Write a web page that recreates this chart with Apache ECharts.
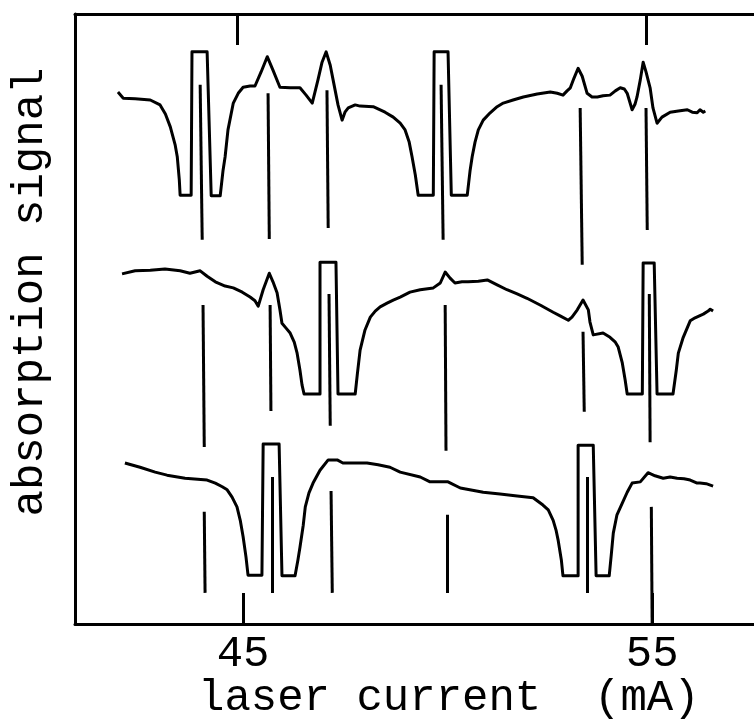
<!DOCTYPE html>
<html>
<head>
<meta charset="utf-8">
<script src="https://cdn.jsdelivr.net/npm/echarts@6/dist/echarts.min.js"></script>
<style>
  html, body { margin: 0; padding: 0; background: #fff; }
  #chart { width: 754px; height: 728px; }
</style>
</head>
<body>
<div id="chart"></div>
<script>
  // laser current (mA) vs absorption signal (a.u., traces stacked by offset)
  const traceTop = [
    [41.94,87.2],[42.07,86.2],[42.36,86.1],[42.73,85.9],[42.97,85.1],[43.10,83.6],[43.22,81.5],[43.34,78.5],
    [43.39,76.6],[43.44,72.8],[43.46,70.3],[43.73,70.3],[43.75,93.8],[44.12,93.8],[44.22,70.2],[44.44,70.2],
    [44.51,74.4],[44.56,76.6],[44.63,81.0],[44.76,85.4],[44.88,87.0],[45.00,88.0],[45.17,88.2],[45.29,88.2],
    [45.44,90.5],[45.59,93.0],[45.73,90.8],[45.90,88.0],[46.15,87.9],[46.39,87.9],[46.54,86.7],[46.69,85.4],
    [46.83,89.2],[46.93,92.1],[47.03,93.8],[47.13,91.6],[47.20,89.2],[47.32,85.1],[47.42,82.6],[47.49,83.9],
    [47.57,84.6],[47.74,85.1],[47.86,84.9],[48.18,84.8],[48.47,83.9],[48.67,83.1],[48.84,82.1],[48.96,81.0],
    [49.06,79.0],[49.13,76.6],[49.21,73.6],[49.28,70.3],[49.65,70.3],[49.67,93.8],[50.01,93.8],[50.09,70.3],
    [50.48,70.3],[50.55,74.4],[50.60,76.6],[50.67,79.0],[50.75,81.0],[50.87,82.6],[51.04,83.8],[51.21,84.8],
    [51.36,85.4],[51.60,85.9],[51.85,86.4],[52.19,86.9],[52.51,87.2],[52.68,87.0],[52.82,86.7],[52.92,87.4],
    [53.00,87.9],[53.09,89.5],[53.19,91.1],[53.29,89.8],[53.41,87.0],[53.53,86.4],[53.66,86.4],[53.80,86.6],
    [53.97,86.7],[54.10,87.4],[54.22,87.9],[54.32,87.7],[54.39,87.0],[54.51,84.3],[54.58,85.2],[54.63,86.4],
    [54.71,89.2],[54.78,92.1],[54.85,90.5],[54.95,87.9],[55.02,84.6],[55.12,82.1],[55.24,83.1],[55.44,83.9],
    [55.64,84.1],[55.86,84.3],[55.98,83.9],[56.10,83.8],[56.17,84.3],[56.25,83.9],[56.30,84.1]
  ];

  const traceMid = [
    [42.04,57.4],[42.36,57.9],[42.73,58.0],[43.09,58.2],[43.46,57.9],[43.70,57.5],[43.95,57.9],[44.12,57.0],
    [44.32,56.1],[44.56,55.4],[44.76,55.1],[44.98,54.4],[45.17,53.6],[45.29,53.0],[45.37,52.1],[45.49,54.8],
    [45.64,57.5],[45.73,56.1],[45.83,54.3],[45.90,51.5],[45.95,49.3],[46.05,48.5],[46.15,47.7],[46.25,46.2],
    [46.32,44.4],[46.39,41.6],[46.44,39.2],[46.49,37.7],[46.88,37.7],[46.88,59.3],[47.27,59.3],[47.32,37.7],
    [47.74,37.7],[47.79,40.8],[47.86,44.9],[47.98,48.2],[48.11,50.3],[48.23,51.3],[48.35,52.0],[48.52,52.6],
    [48.67,53.1],[48.84,53.6],[49.08,54.4],[49.33,54.8],[49.65,55.1],[49.82,55.9],[49.94,57.7],[50.06,56.7],
    [50.18,55.9],[50.35,56.1],[50.50,56.1],[50.75,56.2],[50.97,56.4],[51.21,55.6],[51.45,54.8],[51.70,54.1],
    [51.94,53.4],[52.26,52.3],[52.58,51.1],[52.75,50.5],[52.95,49.8],[53.04,50.3],[53.17,51.5],[53.31,53.1],
    [53.44,51.5],[53.48,49.5],[53.56,47.4],[53.80,47.7],[53.97,47.0],[54.10,46.2],[54.17,45.4],[54.27,42.8],
    [54.34,40.0],[54.39,37.7],[54.76,37.7],[54.78,59.2],[55.05,59.2],[55.12,37.7],[55.51,37.7],[55.59,41.6],
    [55.64,44.4],[55.76,47.0],[55.93,49.7],[56.05,50.2],[56.25,50.8],[56.37,51.3],[56.42,51.6],[56.49,51.3]
  ];

  const traceBot = [
    [42.11,26.4],[42.48,25.7],[42.85,24.9],[43.14,24.4],[43.58,23.9],[44.12,23.6],[44.32,23.1],[44.49,22.5],
    [44.61,22.0],[44.73,20.8],[44.85,19.2],[44.93,17.0],[45.00,14.3],[45.07,11.0],[45.12,8.0],[45.46,8.0],
    [45.49,29.5],[45.88,29.5],[45.95,7.9],[46.27,7.9],[46.34,10.5],[46.39,12.6],[46.47,16.2],[46.52,19.2],
    [46.61,21.5],[46.71,23.1],[46.88,25.2],[47.08,26.9],[47.30,26.9],[47.44,26.4],[47.74,26.4],[48.03,26.4],
    [48.30,26.1],[48.59,25.7],[48.84,24.9],[49.33,24.1],[49.57,23.3],[50.01,23.3],[50.31,22.3],[50.87,21.6],
    [51.28,21.3],[51.70,21.0],[52.09,20.7],[52.33,19.5],[52.46,18.7],[52.58,17.0],[52.65,15.4],[52.70,13.8],
    [52.78,10.5],[52.82,7.9],[53.19,7.9],[53.19,29.3],[53.56,29.3],[53.63,7.9],[53.95,7.9],[54.00,11.3],
    [54.05,14.9],[54.14,17.9],[54.27,19.8],[54.39,21.6],[54.51,23.1],[54.71,23.3],[54.90,24.8],[55.07,24.3],
    [55.27,23.9],[55.44,24.1],[55.61,23.9],[55.78,23.8],[55.93,23.6],[56.10,23.1],[56.17,23.1],[56.32,23.0],
    [56.49,22.6]
  ];

  // frequency marker lines: [x1, y1, x2, y2]
  const markers = [
    [43.95,88.4,44.00,63.0],[44.02,52.3,44.05,29.0],[44.05,18.4,44.07,5.1],
    [45.61,87.0,45.64,63.1],[45.66,52.3,45.68,34.9],[45.71,24.1,45.71,5.1],
    [47.05,87.5,47.08,64.9],[47.10,54.1,47.13,32.5],[47.15,21.8,47.18,5.1],
    [49.84,88.4,49.89,63.0],[49.94,52.3,49.96,28.4],[49.99,17.9,49.99,5.1],
    [53.24,84.6,53.29,58.9],[53.31,47.9,53.34,34.8],[53.41,24.1,53.41,5.1],
    [54.85,84.6,54.88,64.6],[54.93,54.1,54.95,29.8],[54.98,19.2,55.00,0]
  ];

  const tickValues = [45, 55];
  const xTitle = 'laser current  (mA)';
  const yTitle = 'absorption signal';

  const font = '"Liberation Mono", "DejaVu Sans Mono", monospace';
  const ink = '#000';
  const lw = 3;

  const chart = echarts.init(document.getElementById('chart'));

  const traceSeries = (data) => ({
    type: 'line',
    data: data,
    showSymbol: false,
    symbol: 'none',
    animation: false,
    lineStyle: { color: ink, width: lw, join: 'round' }
  });

  chart.setOption({
    backgroundColor: '#fff',
    animation: false,
    grid: {
      left: 75,
      right: 0,
      top: 14,
      bottom: 104,
      show: false
    },
    xAxis: [
      {
        type: 'value',
        min: 40.89,
        max: 57.49,
        position: 'bottom',
        splitLine: { show: false },
        axisLine: { show: true, onZero: false, lineStyle: { color: ink, width: lw } },
        axisTick: {
          show: true,
          inside: true,
          length: 31,
          customValues: tickValues,
          lineStyle: { color: ink, width: lw }
        },
        axisLabel: {
          show: true,
          customValues: tickValues,
          margin: 8,
          color: ink,
          fontFamily: font,
          fontSize: 44
        }
      },
      {
        // top edge ticks (scan is slightly tilted, so they sit a little left)
        type: 'value',
        min: 41.04,
        max: 57.64,
        position: 'top',
        splitLine: { show: false },
        axisLine: { show: true, onZero: false, lineStyle: { color: ink, width: lw } },
        axisLabel: { show: false },
        axisTick: {
          show: true,
          inside: true,
          length: 31,
          customValues: tickValues,
          lineStyle: { color: ink, width: lw }
        }
      }
    ],
    yAxis: {
      type: 'value',
      min: 0,
      max: 100,
      position: 'left',
      axisLine: { show: true, onZero: false, lineStyle: { color: ink, width: lw } },
      axisTick: { show: false },
      axisLabel: { show: false },
      splitLine: { show: false }
    },
    series: [
      traceSeries(traceTop),
      traceSeries(traceMid),
      traceSeries(traceBot),
      {
        type: 'lines',
        coordinateSystem: 'cartesian2d',
        animation: false,
        lineStyle: { color: ink, width: lw, opacity: 1 },
        data: markers.map(m => ({ coords: [[m[0], m[1]], [m[2], m[3]]] }))
      }
    ],
    graphic: [
      {
        type: 'text',
        x: 198,
        y: 698,
        style: {
          text: xTitle,
          font: '44px ' + font,
          fill: ink,
          align: 'left',
          verticalAlign: 'middle',
          textAlign: 'left',
          textVerticalAlign: 'middle'
        }
      },
      {
        type: 'text',
        x: 30,
        y: 292,
        rotation: Math.PI / 2,
        style: {
          text: yTitle,
          font: '44px ' + font,
          fill: ink,
          align: 'center',
          verticalAlign: 'middle',
          textAlign: 'center',
          textVerticalAlign: 'middle'
        }
      }
    ]
  });
</script>
</body>
</html>
